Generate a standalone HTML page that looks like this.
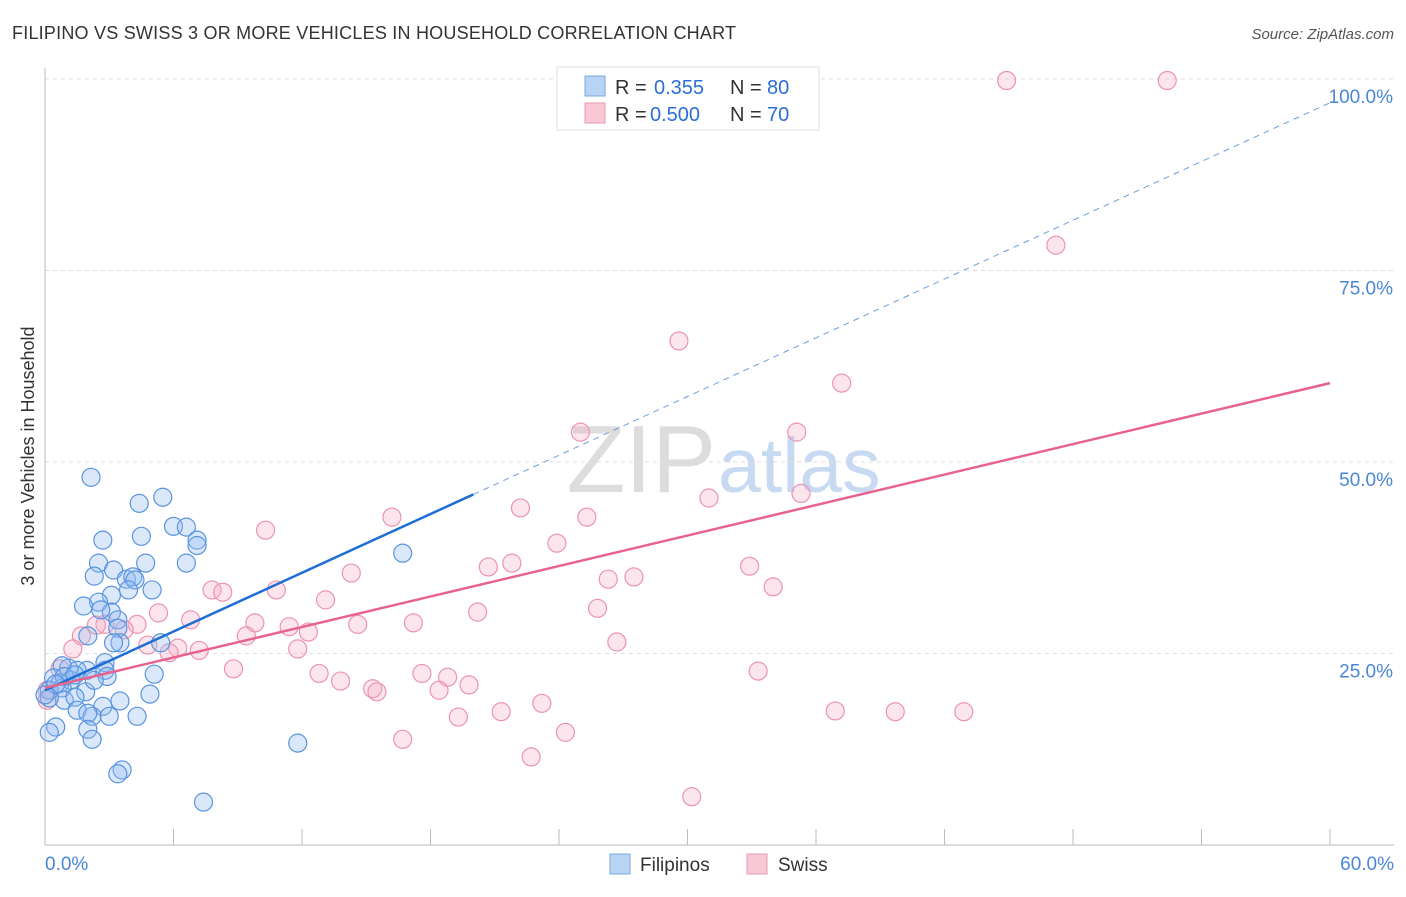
<!DOCTYPE html>
<html><head><meta charset="utf-8"><style>
body{margin:0;background:#fff;font-family:"Liberation Sans",sans-serif}
svg text{font-family:"Liberation Sans",sans-serif}
</style></head><body>
<svg id="chart" width="1406" height="892">
<text x="12" y="39" font-size="18" fill="#333" textLength="724">FILIPINO VS SWISS 3 OR MORE VEHICLES IN HOUSEHOLD CORRELATION CHART</text>
<text x="1394" y="39" font-size="15" fill="#555" font-style="italic" text-anchor="end">Source: ZipAtlas.com</text>
<text x="716" y="492" font-size="96" fill="#ddd" font-family="Liberation Serif" text-anchor="end">ZIP</text>
<text x="718" y="492" font-size="77" fill="#c8daf2">atlas</text>
<text transform="translate(34,456) rotate(-90)" font-size="18" fill="#333" text-anchor="middle">3 or more Vehicles in Household</text>
<g id="grid"></g><g id="axes"></g><g id="pts"></g><g id="lines"></g>
<g>
<rect x="557" y="67" width="262" height="63" fill="#fff" stroke="#ddd"/>
<rect x="585" y="76" width="20" height="20" fill="#b8d4f4" stroke="#7aa8e0"/>
<rect x="585" y="103" width="20" height="20" fill="#f8c8d6" stroke="#e898b0"/>
<text y="94" font-size="20" fill="#333"><tspan x="615">R =</tspan><tspan x="654" fill="#2a6fd6">0.355</tspan><tspan x="730">N =</tspan><tspan x="767" fill="#2a6fd6">80</tspan></text>
<text y="121" font-size="20" fill="#333"><tspan x="615">R =</tspan><tspan x="650" fill="#2a6fd6">0.500</tspan><tspan x="730">N =</tspan><tspan x="767" fill="#2a6fd6">70</tspan></text>
</g>
<g>
<rect x="610" y="854" width="20" height="20" fill="#b8d4f4" stroke="#7aa8e0"/>
<text x="640" y="871" font-size="19" fill="#333">Filipinos</text>
<rect x="747" y="854" width="20" height="20" fill="#f8c8d6" stroke="#e898b0"/>
<text x="778" y="871" font-size="19" fill="#333">Swiss</text>
</g>
</svg>
<script>
const yTicks=[25,50,75,100];
const yTickLabels=["25.0%","50.0%","75.0%","100.0%"];
const xTickLabels=["0.0%","60.0%"];
const blueX=[2.15,4.4,5.5,6.0,6.6,7.1,7.1,2.7,4.5,2.5,4.7,6.6,3.2,2.3,3.8,4.1,4.2,5.0,3.9,3.1,2.5,1.8,3.1,2.6,3.4,3.4,2.0,3.5,3.2,5.4,16.7,2.8,2.8,1.96,1.1,1.5,0.8,5.1,2.9,0.4,0.7,1.2,0.2,0.8,1.9,4.9,0.9,1.4,3.5,0.2,2.7,1.5,2.2,3.0,4.3,2.0,0.5,0.2,2.0,2.2,11.8,3.6,3.4,7.4,0.9,1.4,2.3,0.5,0.0];
const blueY=[48.0,44.6,45.4,41.6,41.5,39.8,39.1,39.8,40.3,36.8,36.8,36.8,35.9,35.1,34.7,35.0,34.6,33.3,33.3,32.6,31.7,31.2,30.4,30.7,29.4,28.3,27.3,26.4,26.4,26.4,38.1,23.8,22.8,22.8,23.1,22.8,23.4,22.3,22.0,21.8,21.1,21.5,20.2,20.5,20.0,19.7,18.9,19.3,18.8,19.2,18.1,17.6,16.8,16.8,16.8,17.2,15.4,14.7,15.1,13.8,13.3,9.8,9.3,5.6,22.0,22.2,21.5,21.0,19.6];
const pinkX=[44.9,52.4,47.2,29.6,37.2,35.1,25.0,31.0,35.3,22.2,25.3,16.2,10.3,23.9,20.7,21.8,14.3,26.3,27.5,32.9,34.0,7.8,8.3,10.8,13.1,25.8,20.2,5.3,6.8,9.8,14.6,17.2,11.4,12.3,9.4,4.3,2.8,3.7,2.4,1.7,4.8,26.7,6.2,7.2,11.8,5.8,1.3,8.8,12.8,17.6,18.8,33.3,13.8,19.8,18.4,15.3,15.5,23.2,21.3,19.3,36.9,39.7,42.9,24.3,16.7,22.7,30.2,0.7,0.1,0.1];
const pinkY=[99.8,99.8,78.3,65.8,60.3,53.9,53.9,45.3,45.9,44.0,42.8,42.8,41.1,39.4,36.3,36.8,35.5,34.7,35.0,36.4,33.7,33.3,33.0,33.3,32.0,30.9,30.4,30.3,29.4,29.0,28.8,29.0,28.5,27.8,27.3,28.8,28.8,28.1,28.7,27.3,26.1,26.5,25.7,25.4,25.6,25.1,25.6,23.0,22.4,22.4,21.9,22.7,21.4,20.9,20.2,20.4,20.0,18.5,17.4,16.7,17.5,17.4,17.4,14.7,13.8,11.5,6.3,23.0,20.2,18.9];
const blueTrend=[20.2,96.9]; // value at x=0, x=60
const pinkTrend=[20.5,60.3];
const blueSolidEnd=20.0;

const NS="http://www.w3.org/2000/svg";
const X=v=>45+v/60*1285, Y=v=>845-v/100*766;
function mk(tag,attrs,parent){const e=document.createElementNS(NS,tag);for(const k in attrs)e.setAttribute(k,attrs[k]);document.getElementById(parent).appendChild(e);return e;}
yTicks.forEach((t,i)=>{
  const l=mk('line',{x1:45,x2:1394,y1:Y(t),y2:Y(t),stroke:'#ddd','stroke-dasharray':'4,4'},'grid');
  
  
  const tx=mk('text',{x:1393,y:Y(t)+24,'font-size':19,fill:'#4a86d8','text-anchor':'end'},'grid');
  tx.textContent=yTickLabels[i];
  
  
});
const ax=mk('line',{x1:45,x2:45,y1:68,y2:845,stroke:'#bbb'},'axes');


const bx=mk('line',{x1:45,x2:1394,y1:845,y2:845,stroke:'#bbb'},'axes');


for(let i=0;i<=10;i++){const t=mk('line',{x1:X(i*6),x2:X(i*6),y1:829,y2:845,stroke:'#bbb'},'axes');
  
  }
[[0,'start',45],[60,'end',1394]].forEach((d,i)=>{const t=mk('text',{x:d[2],y:870,'font-size':19,fill:'#4a86d8','text-anchor':d[1]},'axes');t.textContent=xTickLabels[i];
  
  });
pinkX.forEach((v,i)=>{const c=mk('circle',{cx:X(v),cy:Y(pinkY[i]),r:9,fill:'rgba(245,170,195,0.3)',stroke:'#eb94b0','stroke-width':1.2},'pts');
  
  });
blueX.forEach((v,i)=>{const c=mk('circle',{cx:X(v),cy:Y(blueY[i]),r:9,fill:'rgba(150,190,240,0.35)',stroke:'#5a94e0','stroke-width':1.2},'pts');
  
  });
const bv=x=>blueTrend[0]+(blueTrend[1]-blueTrend[0])*x/60;
const pv=x=>pinkTrend[0]+(pinkTrend[1]-pinkTrend[0])*x/60;
const l1=mk('line',{x1:X(0),y1:Y(bv(0)),x2:X(blueSolidEnd),y2:Y(bv(blueSolidEnd)),stroke:'#1f6ed6','stroke-width':2.5},'lines');


const l2=mk('line',{x1:X(blueSolidEnd),y1:Y(bv(blueSolidEnd)),x2:X(60),y2:Y(bv(60)),stroke:'#6a9ede','stroke-width':1,'stroke-dasharray':'6,5'},'lines');


const l3=mk('line',{x1:X(0),y1:Y(pv(0)),x2:X(60),y2:Y(pv(60)),stroke:'#e8628e','stroke-width':2.5},'lines');


</script>
</body></html>
